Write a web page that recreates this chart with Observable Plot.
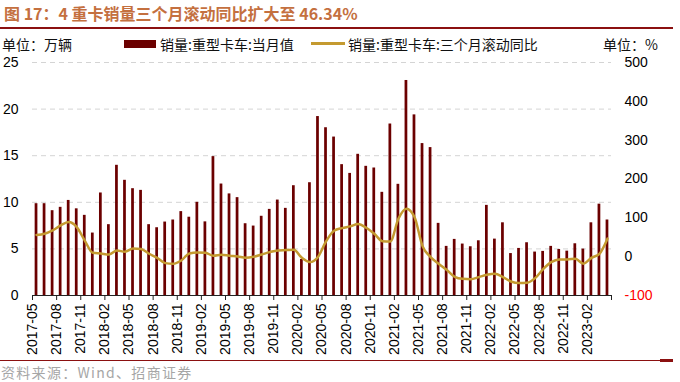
<!DOCTYPE html>
<html><head><meta charset="utf-8">
<script src="https://cdn.jsdelivr.net/npm/d3@7"></script>
<script src="https://cdn.jsdelivr.net/npm/@observablehq/plot@0.6"></script>
<style>
body{margin:0;width:680px;height:382px;position:relative;background:#fff;font-family:"Liberation Sans",Arial,sans-serif;overflow:hidden}
.abs{position:absolute;white-space:nowrap}
.cjk{font-family:"Noto Sans CJK SC","Liberation Sans",sans-serif}
#title{left:4px;top:2px;font-size:16px;font-weight:bold;color:#c4703f;line-height:22px}
#rule1{left:0;top:27px;width:673px;height:2px;background:#8b1010}
.leg{font-size:14px;line-height:18px;top:35px;color:#111}
#sw1{left:124px;top:40px;width:32px;height:8px;background:#6b0000}
#sw2{left:311px;top:42px;width:34px;height:3px;background:#c49a30}
#chart{left:0;top:50px}
#rule2{left:0;top:360px;width:660px;height:1px;background:#8b1010}
#rule3{left:660px;top:359px;width:13px;height:3px;background:#8b1010}
#src{left:1px;top:363px;font-size:14px;line-height:18px;color:#a6a6a6;letter-spacing:1.3px}
</style></head>
<body>
<div id="title" class="abs cjk">图 17：4 重卡销量三个月滚动同比扩大至 46.34%</div>
<div id="rule1" class="abs"></div>
<div class="abs leg cjk" style="left:2px">单位：万辆</div>
<div id="sw1" class="abs"></div>
<div class="abs leg cjk" style="left:160px">销量:重型卡车:当月值</div>
<div id="sw2" class="abs"></div>
<div class="abs leg cjk" style="left:348px">销量:重型卡车:三个月滚动同比</div>
<div class="abs leg cjk" style="left:603px">单位：%</div>
<div id="chart" class="abs"></div>
<div id="rule2" class="abs"></div>
<div id="rule3" class="abs"></div>
<div id="src" class="abs cjk">资料来源：Wind、招商证券</div>
<script>
// Monthly labels 2017-05 .. 2023-04
const months = ["2017-05","2017-06","2017-07","2017-08","2017-09","2017-10","2017-11","2017-12",
"2018-01","2018-02","2018-03","2018-04","2018-05","2018-06","2018-07","2018-08","2018-09","2018-10","2018-11","2018-12",
"2019-01","2019-02","2019-03","2019-04","2019-05","2019-06","2019-07","2019-08","2019-09","2019-10","2019-11","2019-12",
"2020-01","2020-02","2020-03","2020-04","2020-05","2020-06","2020-07","2020-08","2020-09","2020-10","2020-11","2020-12",
"2021-01","2021-02","2021-03","2021-04","2021-05","2021-06","2021-07","2021-08","2021-09","2021-10","2021-11","2021-12",
"2022-01","2022-02","2022-03","2022-04","2022-05","2022-06","2022-07","2022-08","2022-09","2022-10","2022-11","2022-12",
"2023-01","2023-02","2023-03","2023-04"];
// 销量:重型卡车:当月值 (万辆)
const sales = [9.85,9.85,9.1,9.46,10.2,9.3,8.6,6.7,
11.0,7.6,13.97,12.36,11.46,11.28,7.6,7.27,7.88,8.1,9.0,8.4,
10.0,7.9,14.9,11.96,10.9,10.5,7.7,7.45,8.5,9.24,10.24,9.35,
11.78,3.87,12.1,19.2,18.0,17.0,14.04,13.1,15.15,13.86,13.68,11.07,
18.4,11.93,23.07,19.38,16.3,15.87,7.74,5.27,6.02,5.52,5.23,5.87,
9.67,6.05,7.8,4.5,5.05,5.66,4.66,4.73,5.27,4.94,4.76,5.55,
4.98,7.8,9.8,8.1];
// 销量:重型卡车:三个月滚动同比 (%)
const yoy = [56,59,67.6,80.5,89,76,41.5,10,
8,5.6,16,12.6,21,19.5,7.5,-3,-16.6,-18.3,-9.8,8.2,
10.9,10,2.3,4.9,2.3,0.6,-3,-0.3,5.6,11.7,16,16.9,
17.7,-3,-14,-0.6,39.3,66.8,73.6,78,84,74.5,59,40,
39.3,97.7,123.5,102,27.2,-1,-18,-33.8,-51.8,-57,-57.9,-52.7,
-46.7,-44,-52.7,-63.9,-68,-67.3,-55.3,-32,-14,-7,-7,-5.5,
-18,-3,7.5,46.34];
const leftTicks = [0,5,10,15,20,25];
const rightTicks = [-100,0,100,200,300,400,500];

const toLeft = p => (p + 100) / 24;   // -100..500 -> 0..25
const data = months.map((m, i) => ({i, m, v: sales[i], p: yoy[i]}));

const chart = Plot.plot({
  width: 680, height: 312,
  marginLeft: 32, marginRight: 69, marginTop: 12, marginBottom: 67,
  style: {fontFamily: "'Liberation Sans', Arial, sans-serif", fontSize: "14px", color: "#000", background: "transparent"},
  x: {type: "linear", domain: [0, 72]},
  y: {domain: [0, 25]},
  marks: [
    Plot.ruleY(leftTicks.filter(t => t > 0), {stroke: "#d4d4d4", strokeDasharray: "5,4", strokeWidth: 1}),
    Plot.rectY(data, {x1: d => d.i + 0.33, x2: d => d.i + 0.67, y: "v", fill: "#6b0000"}),
    Plot.line(data, {x: d => d.i + 0.5, y: d => toLeft(d.p), stroke: "#c49a30", strokeWidth: 2.5, curve: "monotone-x"}),
    Plot.ruleY([0], {stroke: "#222", strokeWidth: 1}),
    Plot.axisX({ticks: d3.range(0, 73, 3), tickFormat: i => i < 72 ? months[i] : "", tickRotate: -90, tickSize: 5, tickPadding: 3, label: null, stroke: "#222"}),
    Plot.axisY({ticks: leftTicks, tickSize: 0, tickPadding: 14, label: null}),
    Plot.axisY({anchor: "right", ticks: rightTicks.map(toLeft), tickFormat: v => String(Math.round(v * 24 - 100)), tickSize: 0, tickPadding: 13, label: null})
  ]
});
d3.select(chart).selectAll("text").filter(function(){ return this.textContent === "-100"; }).attr("fill", "#ff0000");
document.getElementById("chart").appendChild(chart);
</script>
</body></html>
